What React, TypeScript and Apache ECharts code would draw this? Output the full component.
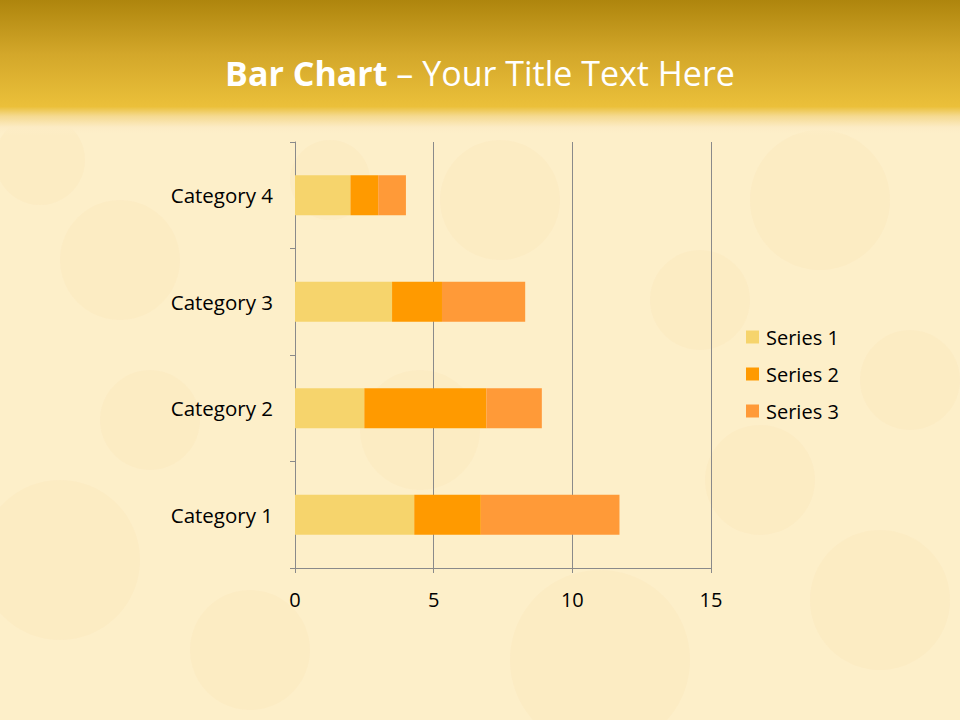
import React, { useEffect, useRef } from "react";
import * as echarts from "echarts";

const categories = ["Category 1", "Category 2", "Category 3", "Category 4"];
const series1 = [4.3, 2.5, 3.5, 2];
const series2 = [2.4, 4.4, 1.8, 1];
const series3 = [5, 2, 3, 1];
const seriesNames = ["Series 1", "Series 2", "Series 3"];
const seriesColors = ["#F6D46C", "#FF9A00", "#FF9A38"];
const xTicks = { min: 0, max: 15, interval: 5 };

const FONT = "'Open Sans', Lato, sans-serif";

export default function App() {
  const ref = useRef<HTMLDivElement>(null);
  useEffect(() => {
    if (!ref.current) return;
    const chart = echarts.init(ref.current, undefined, { renderer: "svg" });
    const values = [series1, series2, series3];
    const blobs: any[] = [];
    const spots = [
      [120, 260, 60], [820, 200, 70], [60, 560, 80], [600, 660, 90], [880, 600, 70],
      [420, 430, 60], [700, 300, 50], [250, 650, 60], [150, 420, 50], [500, 200, 60],
      [330, 180, 40], [760, 480, 55], [40, 160, 45], [910, 380, 50],
    ];
    spots.forEach(([cx, cy, r]) =>
      blobs.push({
        type: "circle",
        shape: { cx, cy, r },
        style: { fill: "rgba(240,205,130,0.07)" },
        silent: true,
        z: -9,
      })
    );
    chart.setOption({
      animation: false,
      backgroundColor: "#FDEFC9",
      textStyle: { fontFamily: FONT },
      graphic: [
        {
          type: "rect",
          shape: { x: 0, y: 0, width: 960, height: 135 },
          style: {
            fill: new echarts.graphic.LinearGradient(0, 0, 0, 1, [
              { offset: 0, color: "#AE850D" },
              { offset: 0.4, color: "#D3A72A" },
              { offset: 0.79, color: "#EBC03A" },
              { offset: 0.86, color: "#F5DA90" },
              { offset: 0.94, color: "#FCEBC3" },
              { offset: 1, color: "rgba(253,239,201,0)" },
            ]),
          },
          silent: true,
          z: -8,
        },
        ...blobs,
        {
          type: "text",
          left: "center",
          top: 56,
          style: {
            text: "{b|Bar Chart}{n| – Your Title Text Here}",
            rich: {
              b: { fontFamily: FONT, fontWeight: "bold", fontSize: 34, fill: "#FFFFFF", color: "#FFFFFF" },
              n: { fontFamily: FONT, fontSize: 34, fill: "#FFFFFF", color: "#FFFFFF" },
            },
            fill: "#FFFFFF",
          },
          z: 10,
        },
      ],
      legend: {
        orient: "vertical",
        left: 741,
        top: 322,
        itemWidth: 13,
        itemHeight: 13,
        itemGap: 17,
        icon: "rect",
        data: seriesNames,
        textStyle: { fontFamily: FONT, fontSize: 20, color: "#000", padding: [0, 0, 0, 2] },
      },
      grid: { left: 295, right: 249, top: 142, bottom: 152, containLabel: false },
      xAxis: {
        type: "value",
        min: xTicks.min,
        max: xTicks.max,
        interval: xTicks.interval,
        axisLine: { show: true, lineStyle: { color: "#8A8A8A", width: 1 } },
        axisTick: { show: true, length: 5, lineStyle: { color: "#8A8A8A" } },
        splitLine: { show: true, lineStyle: { color: "#8A8A8A", width: 1 } },
        axisLabel: { color: "#000", fontSize: 20, fontFamily: FONT, margin: 21 },
      },
      yAxis: {
        type: "category",
        data: categories,
        axisLine: { show: true, lineStyle: { color: "#8A8A8A", width: 1 } },
        axisTick: { show: true, length: 5, lineStyle: { color: "#8A8A8A" } },
        axisLabel: { color: "#000", fontSize: 20.5, fontFamily: FONT, margin: 22 },
      },
      series: seriesNames.map((name, i) => ({
        name,
        type: "bar",
        stack: "total",
        barWidth: 40,
        data: values[i],
        itemStyle: { color: seriesColors[i] },
      })),
    });
    return () => chart.dispose();
  }, []);
  return (
    <div
      ref={ref}
      style={{ position: "fixed", left: 0, top: 0, width: 960, height: 720 }}
    />
  );
}
